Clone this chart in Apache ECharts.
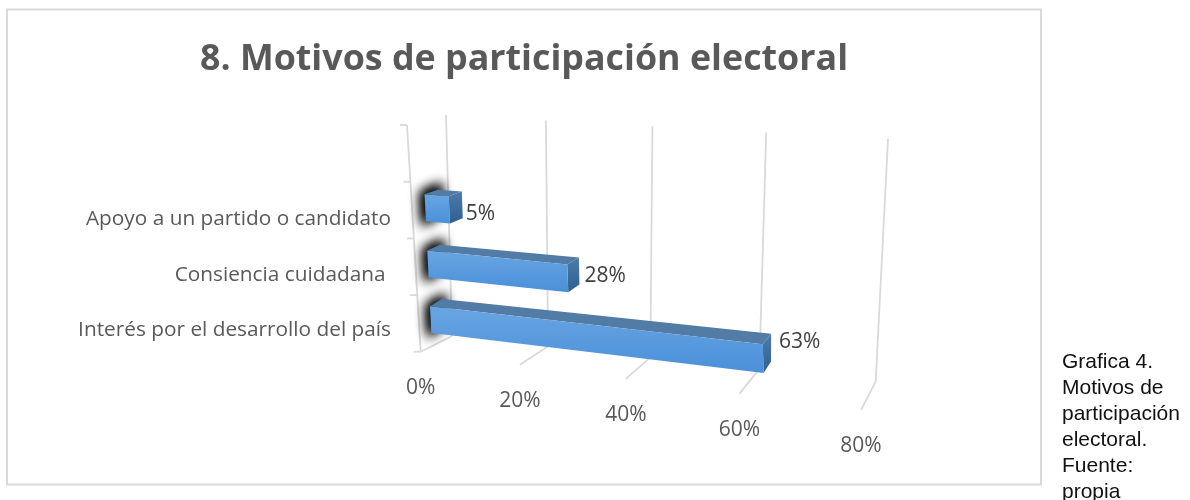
<!DOCTYPE html>
<html>
<head>
<meta charset="utf-8">
<style>html,body{margin:0;padding:0;background:#fff}#c{width:1190px;height:500px}</style>
<script src="https://cdn.jsdelivr.net/npm/echarts@6/dist/echarts.min.js"></script>
</head>
<body>
<div id="c"></div>
<script>
var chartTitle = '8. Motivos de participación electoral';
var caption = ['Grafica 4.', 'Motivos de', 'participación', 'electoral.', 'Fuente:', 'propia'];
var categories = ['Interés por el desarrollo del país', 'Consiencia cuidadana ', 'Apoyo a un partido o candidato', ''];
var percentages = [63, 28, 5];
var valueTicks = [0, 20, 40, 60, 80];

// 3D view of the chart box: corners of the front and back planes
var FRONT = [[420.7, 351.7], [861, 410], [847, 158], [407, 125]];
var BACK = [[452, 336], [875.7, 381.7], [888, 139], [446, 115]];
var BAR_FRONT = 0.36, BAR_BACK = 0.72, BAR_SHARE = 0.48, BAR_SHIFT = -0.006;
var SHADOW_SHIFT = 2000;

function homography(q) {
  var x0 = q[0][0], y0 = q[0][1], x1 = q[1][0], y1 = q[1][1], x2 = q[2][0], y2 = q[2][1], x3 = q[3][0], y3 = q[3][1];
  var dx1 = x1 - x2, dx2 = x3 - x2, sx = x0 - x1 + x2 - x3, dy1 = y1 - y2, dy2 = y3 - y2, sy = y0 - y1 + y2 - y3;
  var d = dx1 * dy2 - dx2 * dy1;
  var g = (sx * dy2 - dx2 * sy) / d, h = (dx1 * sy - sx * dy1) / d;
  var a = x1 - x0 + g * x1, b = x3 - x0 + h * x3, e = y1 - y0 + g * y1, f = y3 - y0 + h * y3;
  return function (s, t) {
    var w = g * s + h * t + 1;
    return [(a * s + b * t + x0) / w, (e * s + f * t + y0) / w];
  };
}
var fp = homography(FRONT), bp = homography(BACK);
function project(s, t, z) {
  var a = fp(s, t), b = bp(s, t);
  return [a[0] + (b[0] - a[0]) * z, a[1] + (b[1] - a[1]) * z];
}
// grid position (from the axes' scales) -> position in the 3D view
function stOf(p, cs) {
  var s = (p[0] - cs.x) / cs.width;
  return [s - 0.03 * s * (1 - s), 1 - (p[1] - cs.y) / cs.height];
}

var GRID_LINE = { stroke: '#d9d9d9', lineWidth: 1.8, fill: null };
function seg(a, b) {
  return { type: 'line', silent: true, shape: { x1: a[0], y1: a[1], x2: b[0], y2: b[1] }, style: GRID_LINE };
}
function poly(points, style) {
  return { type: 'polygon', silent: true, shape: { points: points }, style: style };
}
function grad(a, b) {
  return { type: 'linear', x: 0, y: 0, x2: 0, y2: 1, colorStops: [{ offset: 0, color: a }, { offset: 1, color: b }] };
}

function renderTick(params, api) {
  var cs = params.coordSys, v = api.value(0);
  var s = stOf(api.coord([v, 0]), cs)[0];
  var f = project(s, 0, 0);
  return {
    type: 'group',
    children: [
      seg(project(s, 0, 1), project(s, 1, 1)),
      seg(f, project(s, 0, 1)),
      {
        type: 'text', silent: true, x: f[0], y: f[1] + 36,
        style: { text: v + '%', fill: '#595959', font: '21px "Open Sans"', align: 'center', verticalAlign: 'middle' }
      }
    ]
  };
}

function renderWall() {
  var kids = [seg(project(0, 0, 0), project(0, 1, 0))];
  for (var k = 0; k <= categories.length; k++) {
    var p = project(0, k / categories.length, 0);
    kids.push(seg(p, [p[0] - 7, p[1]]));
  }
  return { type: 'group', children: kids };
}

function barGeom(params, api) {
  var cs = params.coordSys, v = api.value(0), i = api.value(1);
  var st = stOf(api.coord([v, i]), cs);
  var half = BAR_SHARE * api.size([0, 1])[1] / cs.height / 2;
  return { s: st[0], lo: st[1] - half + BAR_SHIFT, hi: st[1] + half + BAR_SHIFT, v: v };
}
// the far side of the bars sits a little higher than the plain plane gives
function backPoint(s, t) {
  var p = project(s, t, BAR_BACK);
  return [p[0], p[1] - 3 * (1 - t)];
}

// only the soft shadow is visible: the shape itself lies outside the canvas
function renderShadow(params, api) {
  var g = barGeom(params, api);
  var pts = [
    project(0, g.lo - 0.015, BAR_FRONT - 0.1), project(0, g.hi + 0.012, BAR_FRONT - 0.1),
    project(0, g.hi + 0.028, BAR_BACK + 0.1), project(0, g.lo + 0.02, BAR_BACK + 0.1)
  ].map(function (p) { return [p[0] - SHADOW_SHIFT, p[1]]; });
  var style = { fill: '#000', shadowBlur: 12, shadowOffsetX: SHADOW_SHIFT, shadowColor: 'rgba(10,10,10,1)' };
  return { type: 'group', children: [poly(pts, style), poly(pts, style)] };
}

function renderBar(params, api) {
  var g = barGeom(params, api), s = g.s, v = g.v;
  var fbl = project(0, g.lo, BAR_FRONT), ftl = project(0, g.hi, BAR_FRONT);
  var fbr = project(s, g.lo, BAR_FRONT), ftr = project(s, g.hi, BAR_FRONT);
  var bbr = backPoint(s, g.lo), btr = backPoint(s, g.hi), btl = backPoint(0, g.hi);
  var side = [(btr[0] + bbr[0]) / 2, (btr[1] + bbr[1]) / 2];
  return {
    type: 'group',
    children: [
      poly([ftl, btl, btr, ftr], { fill: '#527ba6' }),
      poly([ftr, btr, bbr, fbr], { fill: grad('#4c7cab', '#2e5f90') }),
      poly([ftl, ftr, fbr, fbl], { fill: grad('#69a5e2', '#4a90d9') }),
      {
        type: 'text', silent: true, x: side[0] + 3 + 0.08 * v, y: side[1] + 9.2 - 0.081 * v - 0.00248 * v * v,
        style: { text: v + '%', fill: '#404040', font: '21px "Open Sans"', align: 'left', verticalAlign: 'middle' }
      }
    ]
  };
}

var barData = percentages.map(function (v, i) { return [v, i]; });
var chart = echarts.init(document.getElementById('c'), null, { renderer: 'canvas' });
chart.setOption({
  animation: false,
  backgroundColor: '#fff',
  title: [
    { text: chartTitle, left: 519, top: 37, textAlign: 'center',
      textStyle: { fontFamily: 'Open Sans', fontWeight: 'bold', fontSize: 35.8, color: '#595959' } },
    { text: caption.join('\n'), left: 1057, top: 344,
      textStyle: { fontFamily: 'Liberation Sans', fontWeight: 'normal', fontSize: 21, lineHeight: 26, color: '#111' } }
  ],
  graphic: [{
    type: 'rect', silent: true, z: -1,
    shape: { x: 7, y: 9.5, width: 1034, height: 475 },
    style: { fill: '#fff', stroke: '#d9d9d9', lineWidth: 2 }
  }],
  grid: { left: 391, top: 136, width: 480, height: 222 },
  xAxis: { type: 'value', min: 0, max: 80, interval: 20, show: false },
  yAxis: {
    type: 'category', data: categories,
    axisLine: { show: false }, axisTick: { show: false }, splitLine: { show: false },
    axisLabel: { margin: 0, color: '#595959', fontFamily: 'Open Sans', fontSize: 20.8, align: 'right' }
  },
  series: [
    { type: 'custom', name: 'ticks', clip: false, silent: true, z: 1, renderItem: renderTick,
      data: valueTicks.map(function (v) { return [v, 0]; }) },
    { type: 'custom', name: 'wall', clip: false, silent: true, z: 1, renderItem: renderWall, data: [[0, 0]] },
    { type: 'custom', name: 'shadow', clip: false, silent: true, z: 2, renderItem: renderShadow, data: barData },
    { type: 'custom', name: 'Motivos', clip: false, silent: true, z: 3, renderItem: renderBar, data: barData }
  ]
});
</script>
</body>
</html>
